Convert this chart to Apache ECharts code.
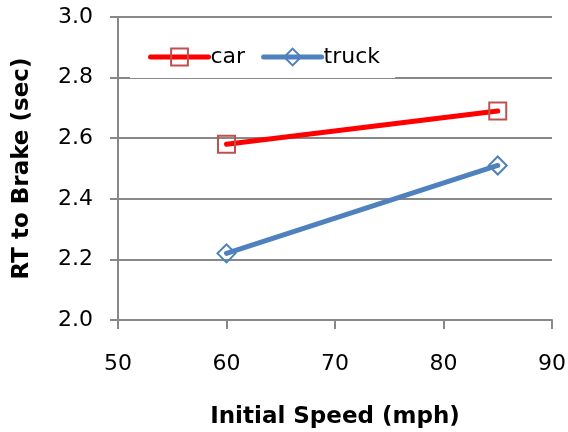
<!DOCTYPE html>
<html><head><meta charset="utf-8">
<script src="https://cdn.jsdelivr.net/npm/echarts@6/dist/echarts.min.js"></script>
<style>html,body{margin:0;padding:0;background:#fff}#c{width:568px;height:432px}</style>
</head><body><div id="c"></div>
<script>
const speeds = [60, 85];
const carRT = [2.58, 2.69];
const truckRT = [2.22, 2.51];
const xTicks = [50, 60, 70, 80, 90];
const yTicks = [2.0, 2.2, 2.4, 2.6, 2.8, 3.0];

const font = 'DejaVu Sans';
const chart = echarts.init(document.getElementById('c'));
chart.setOption({
  animation: false,
  backgroundColor: '#fff',
  grid: {left: 118, right: 16, top: 17, bottom: 112, containLabel: false, outerBoundsMode: 'none'},
  legend: {
    left: 130, top: 36, itemWidth: 58, itemHeight: 21, itemGap: 16,
    padding: [10, 15, 10, 18], backgroundColor: '#fff',
    lineStyle: {width: 5},
    textStyle: {fontFamily: font, fontSize: 22, color: '#000', padding: [0, 0, 0, -3]},
    data: ['car', 'truck']
  },
  xAxis: {
    type: 'value', min: xTicks[0], max: xTicks[xTicks.length-1], interval: 10,
    name: 'Initial Speed (mph)', nameLocation: 'middle', nameGap: 86,
    nameTextStyle: {fontFamily: font, fontSize: 23, fontWeight: 'bold', color: '#000'},
    axisLine: {show: true, lineStyle: {color: '#888', width: 2}},
    axisTick: {show: true, inside: false, length: 9, lineStyle: {color: '#888', width: 2}},
    axisLabel: {fontFamily: font, fontSize: 22, color: '#000', margin: 33},
    splitLine: {show: false}
  },
  yAxis: {
    type: 'value', min: yTicks[0], max: yTicks[yTicks.length-1], interval: 0.2,
    name: 'RT to Brake (sec)', nameLocation: 'middle', nameGap: 84, nameRotate: 90,
    nameTextStyle: {fontFamily: font, fontSize: 23, fontWeight: 'bold', color: '#000'},
    axisLine: {show: true, lineStyle: {color: '#888', width: 2}},
    axisTick: {show: true, inside: false, length: 8, lineStyle: {color: '#888', width: 2}},
    axisLabel: {fontFamily: font, fontSize: 22, color: '#000', margin: 25,
      formatter: v => v.toFixed(1)},
    splitLine: {show: true, lineStyle: {color: '#888', width: 2}}
  },
  series: [
    {name: 'car', type: 'line', data: speeds.map((s,i)=>[s, carRT[i]]),
     symbol: 'rect', symbolSize: 17, showAllSymbol: true,
     lineStyle: {color: '#ff0000', width: 5, cap: 'round'},
     itemStyle: {color: 'rgba(255,255,255,0)', borderColor: '#c0504d', borderWidth: 2},
     z: 3},
    {name: 'truck', type: 'line', data: speeds.map((s,i)=>[s, truckRT[i]]),
     symbol: 'diamond', symbolSize: 18, showAllSymbol: true,
     lineStyle: {color: '#4f81bd', width: 5, cap: 'round'},
     itemStyle: {color: 'rgba(255,255,255,0)', borderColor: '#4f81bd', borderWidth: 2},
     z: 2}
  ]
});
</script></body></html>
